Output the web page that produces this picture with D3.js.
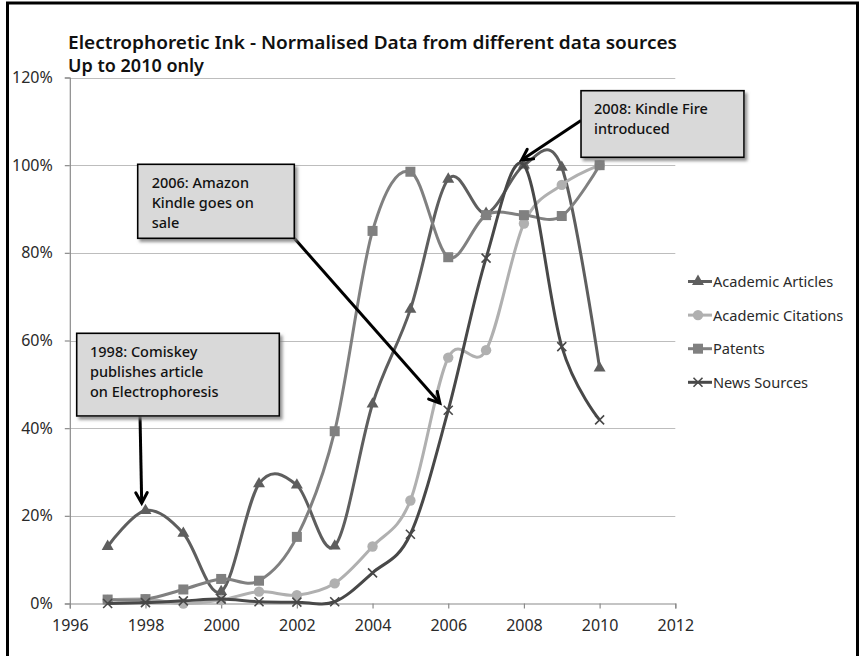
<!DOCTYPE html>
<html>
<head>
<meta charset="utf-8">
<script src="https://cdn.jsdelivr.net/npm/d3@7"></script>
<style>
  html, body { margin: 0; padding: 0; background: #fff; }
  svg { display: block; font-family: "Noto Sans", "Open Sans", sans-serif; }
</style>
</head>
<body>
<svg id="chart" width="863" height="656"></svg>
<script>
// ---- Data ----
const years = [1997, 1998, 1999, 2000, 2001, 2002, 2003, 2004, 2005, 2006, 2007, 2008, 2009, 2010];
const academicArticles  = [13.0, 21.2, 16.0, 2.7, 27.3, 27.0, 13.1, 45.5, 67.1, 96.8, 89.0, 100.0, 99.5, 53.7];
const academicCitations = [0.8, 1.0, 0.0, 0.8, 2.7, 1.9, 4.6, 13.0, 23.5, 56.1, 57.8, 86.7, 95.5, 100.0];
const patents           = [0.9, 1.0, 3.2, 5.6, 5.2, 15.2, 39.3, 85.0, 98.5, 79.0, 88.6, 88.6, 88.4, 100.0];
const newsSources       = [0.0, 0.2, 0.6, 1.0, 0.4, 0.3, 0.4, 7.0, 15.8, 44.1, 78.8, 100.0, 58.6, 41.9];
const seriesNames = ["Academic Articles", "Academic Citations", "Patents", "News Sources"];
const xTicks = [1996, 1998, 2000, 2002, 2004, 2006, 2008, 2010, 2012];
const yTicks = [0, 20, 40, 60, 80, 100, 120];
const titleLines = ["Electrophoretic Ink - Normalised Data from different data sources", "Up to 2010 only"];
const annotations = [
  { lines: ["2006: Amazon", "Kindle goes on", "sale"], tipYear: 2005.78, tipPct: 45.7 },
  { lines: ["1998: Comiskey", "publishes article", "on Electrophoresis"], tipYear: 1997.9, tipPct: 22.9 },
  { lines: ["2008: Kindle Fire", "introduced"], tipYear: 2007.94, tipPct: 101.2 }
];

// ---- Layout ----
const svg = d3.select("#chart");
const plot = { left: 69.8, right: 675.3, top: 77.5, bottom: 603.5 };
const x = d3.scaleLinear().domain([1996, 2012]).range([plot.left, plot.right]);
const y = d3.scaleLinear().domain([0, 120]).range([plot.bottom, plot.top]);

const styles = [
  { color: "#5e5e5e", marker: "triangle" },
  { color: "#b0b0b0", marker: "circle" },
  { color: "#808080", marker: "square" },
  { color: "#484848", marker: "x" }
];
const seriesData = [academicArticles, academicCitations, patents, newsSources];

// defs
const defs = svg.append("defs");
const f = defs.append("filter").attr("id", "shadow").attr("x", "-10%").attr("y", "-10%").attr("width", "130%").attr("height", "140%");
f.append("feDropShadow").attr("dx", 2.5).attr("dy", 3).attr("stdDeviation", 1.6)
  .attr("flood-color", "#7a7a7a").attr("flood-opacity", 0.8);

// outer border
svg.append("rect").attr("x", 7.5).attr("y", 3).attr("width", 850).attr("height", 720)
  .attr("fill", "none").attr("stroke", "#000").attr("stroke-width", 3);

// gridlines
svg.append("g").selectAll("line").data(yTicks.filter(d => d > 0)).join("line")
  .attr("x1", plot.left).attr("x2", plot.right)
  .attr("y1", d => Math.round(y(d)) + 0.5).attr("y2", d => Math.round(y(d)) + 0.5)
  .attr("stroke", "#bdbdbd").attr("stroke-width", 1.2);

// y axis
const yAxis = d3.axisLeft(y).tickValues(yTicks).tickFormat(d => d + "%").tickSize(5).tickPadding(9);
const gy = svg.append("g").attr("transform", `translate(${plot.left},0)`).call(yAxis);
gy.select(".domain").attr("stroke", "#8a8a8a").attr("stroke-width", 1.2);
gy.selectAll(".tick line").attr("stroke", "#8a8a8a").attr("stroke-width", 1.2);
gy.selectAll(".tick text").attr("font-size", 16).attr("fill", "#2a2a2a")
  .attr("font-family", "Noto Sans, sans-serif").attr("x", -17);

// x axis
const xAxis = d3.axisBottom(x).tickValues(xTicks).tickFormat(d3.format("d")).tickSize(5).tickPadding(6);
const gx = svg.append("g").attr("transform", `translate(0,${plot.bottom})`).call(xAxis);
gx.select(".domain").attr("stroke", "#8a8a8a").attr("stroke-width", 1.2);
gx.selectAll(".tick line").attr("stroke", "#8a8a8a").attr("stroke-width", 1.2);
gx.selectAll(".tick text").attr("font-size", 16).attr("fill", "#2a2a2a")
  .attr("font-family", "Noto Sans, sans-serif").attr("y", 16);

// title
svg.append("text").attr("x", 68).attr("y", 49).attr("font-size", 17).attr("font-weight", 600)
  .attr("fill", "#111").attr("textLength", 609).attr("lengthAdjust", "spacingAndGlyphs")
  .text(titleLines[0]);
svg.append("text").attr("x", 68).attr("y", 72).attr("font-size", 17).attr("font-weight", 600)
  .attr("fill", "#111").attr("textLength", 136).attr("lengthAdjust", "spacingAndGlyphs")
  .text(titleLines[1]);

// markers
function drawMarker(g, type, cx, cy, color) {
  if (type === "triangle") {
    g.append("path").attr("d", d3.symbol(d3.symbolTriangle, 62)()).attr("transform", `translate(${cx},${cy})`)
      .attr("fill", color);
  } else if (type === "circle") {
    g.append("circle").attr("cx", cx).attr("cy", cy).attr("r", 5.2).attr("fill", color);
  } else if (type === "square") {
    g.append("rect").attr("x", cx - 5).attr("y", cy - 5).attr("width", 10).attr("height", 10).attr("fill", color);
  } else if (type === "x") {
    g.append("path").attr("d", `M${cx-4.5},${cy-4.5}L${cx+4.5},${cy+4.5}M${cx-4.5},${cy+4.5}L${cx+4.5},${cy-4.5}`)
      .attr("stroke", color).attr("stroke-width", 1.6).attr("fill", "none");
  }
}

const line = d3.line().x(d => x(d[0])).y(d => y(d[1])).curve(d3.curveCardinal.tension(0));
const gSeries = svg.append("g");
seriesData.forEach((vals, i) => {
  const pts = years.map((yr, j) => [yr, vals[j]]);
  const g = gSeries.append("g");
  g.append("path").datum(pts).attr("d", line).attr("fill", "none")
    .attr("stroke", styles[i].color).attr("stroke-width", 3).attr("stroke-linejoin", "round");
  pts.forEach(p => drawMarker(g, styles[i].marker, x(p[0]), y(p[1]), styles[i].color));
});

// legend
const legendY0 = 281.5, legendStep = 33.6;
seriesNames.forEach((name, i) => {
  const ly = legendY0 + i * legendStep;
  const g = svg.append("g");
  g.append("line").attr("x1", 688).attr("x2", 712).attr("y1", ly).attr("y2", ly)
    .attr("stroke", styles[i].color).attr("stroke-width", 3);
  drawMarker(g, styles[i].marker, 698, ly, styles[i].color);
  g.append("text").attr("x", 713).attr("y", ly + 5.5).attr("font-size", 14.6).attr("fill", "#2a2a2a")
    .text(name);
});

// annotation boxes
const boxes = [
  { x: 137.7, y: 164.3, w: 156.6, h: 74, tx: 151.7, ty: 188, arrowFrom: [294.3, 238.3] },
  { x: 76.7, y: 333.3, w: 202.6, h: 82.7, tx: 90, ty: 357, arrowFrom: [140, 415.5] },
  { x: 581, y: 90.7, w: 163, h: 66.6, tx: 594, ty: 114, arrowFrom: [581, 120.5] }
];
const gAnn = svg.append("g");
// arrows first (under boxes)
annotations.forEach((a, i) => {
  const b = boxes[i];
  const x0 = b.arrowFrom[0], y0 = b.arrowFrom[1];
  const x1 = x(a.tipYear), y1 = y(a.tipPct);
  gAnn.append("line").attr("x1", x0).attr("y1", y0).attr("x2", x1).attr("y2", y1)
    .attr("stroke", "#000").attr("stroke-width", 3);
  const ang = Math.atan2(y1 - y0, x1 - x0);
  const L = 12, spread = 0.5;
  const p1 = [x1 - L * Math.cos(ang - spread), y1 - L * Math.sin(ang - spread)];
  const p2 = [x1 - L * Math.cos(ang + spread), y1 - L * Math.sin(ang + spread)];
  gAnn.append("path").attr("d", `M${p1[0]},${p1[1]}L${x1},${y1}L${p2[0]},${p2[1]}`)
    .attr("fill", "none").attr("stroke", "#000").attr("stroke-width", 3)
    .attr("stroke-linejoin", "miter").attr("stroke-linecap", "round");
});
annotations.forEach((a, i) => {
  const b = boxes[i];
  gAnn.append("rect").attr("x", b.x).attr("y", b.y).attr("width", b.w).attr("height", b.h)
    .attr("fill", "#d9d9d9").attr("stroke", "#000").attr("stroke-width", 1.6)
    .attr("filter", "url(#shadow)");
  a.lines.forEach((t, k) => {
    gAnn.append("text").attr("x", b.tx).attr("y", b.ty + k * 20).attr("font-size", 14.5)
      .attr("font-weight", 500).attr("fill", "#111").text(t);
  });
});
</script>
</body>
</html>
